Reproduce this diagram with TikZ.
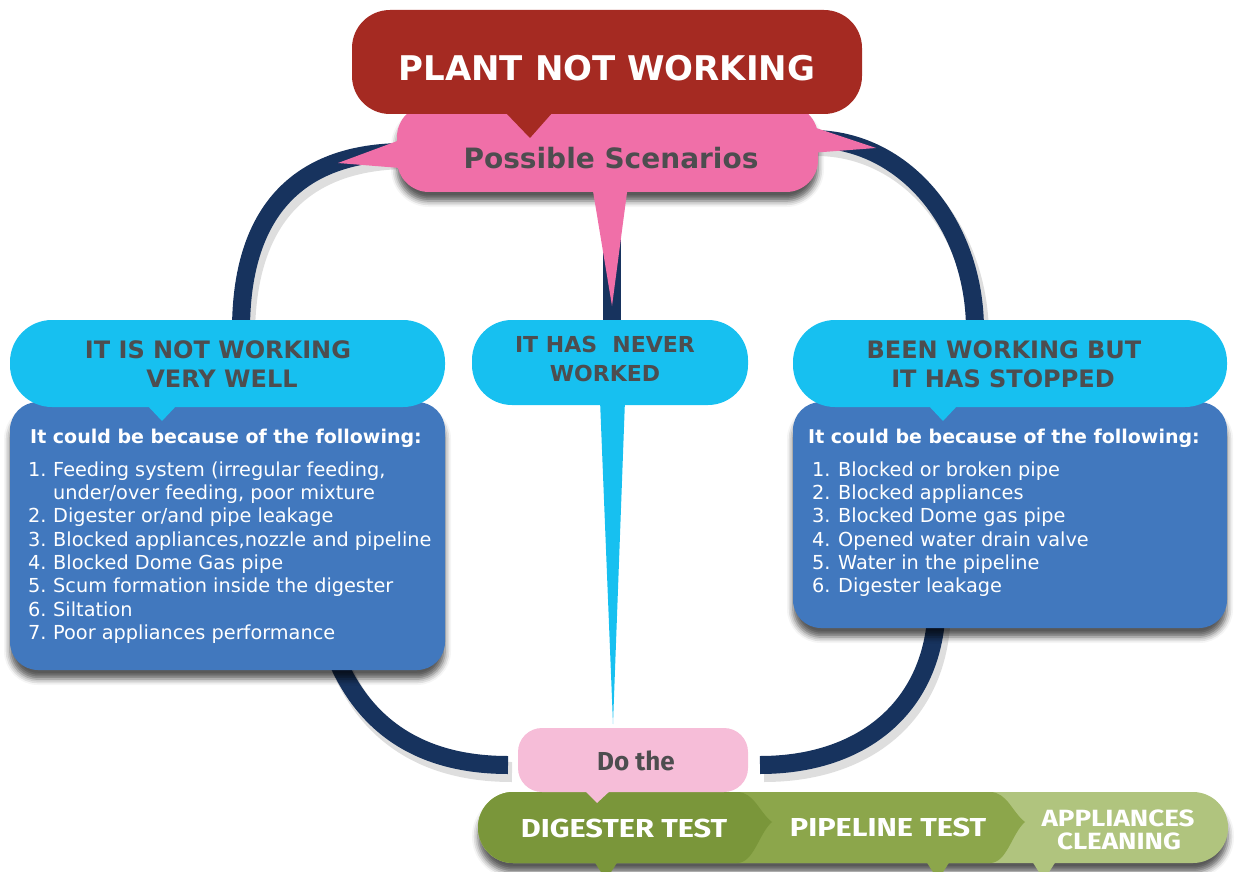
\documentclass[tikz,border=0pt]{standalone}
\usepackage{fontspec}
\setmainfont{DejaVu Sans}
\newfontfamily\condfont{Fira Sans}
\usetikzlibrary{shadows.blur}
\definecolor{cRed}{HTML}{A52A22}
\definecolor{cPink}{HTML}{F06FA8}
\definecolor{cLPink}{HTML}{F6BDD8}
\definecolor{cCyan}{HTML}{17C0F0}
\definecolor{cBlue}{HTML}{4178BE}
\definecolor{cNavy}{HTML}{17335E}
\definecolor{cGray}{HTML}{4D4D4F}
\definecolor{gDark}{HTML}{7A963A}
\definecolor{gMid}{HTML}{8CA64B}
\definecolor{gLight}{HTML}{B0C47E}
\newcommand\widen[1]{\scalebox{1.18}[1]{#1}}
\tikzset{
  box/.style={rectangle, rounded corners=#1, inner sep=0pt, draw=none},
  box/.default=30pt,
  shad/.style={blur shadow={shadow xshift=0pt, shadow yshift=-9pt, shadow blur radius=6pt, shadow opacity=65}},
  ring/.style={draw=cNavy, line width=18pt},
  ringshade/.style={draw=black, opacity=0.13, line width=20pt, transform canvas={xshift=4pt, yshift=-7pt}},
  tx/.style={inner sep=0pt, anchor=base},
  txl/.style={inner sep=0pt, anchor=base west, text=white},
  headtxt/.style={tx, text=cGray, font=\fontsize{24}{28}\selectfont\bfseries},
  itemtxt/.style={txl, font=\fontsize{19.3}{23}\selectfont},
  bartxt/.style={tx, text=white, font=\fontsize{26}{30}\condfont\bfseries},
  bartxtsm/.style={tx, text=white, font=\fontsize{23.5}{28}\condfont\bfseries},
}
\begin{document}
\begin{tikzpicture}[x=1pt,y=-1pt]
\useasboundingbox (0,0) rectangle (1235,872);
\clip (0,0) rectangle (1235,872);

% ring coordinates
\coordinate (tlA) at (405,152);
\coordinate (tlB) at (241,330);
\coordinate (trA) at (812,139);
\coordinate (trB) at (975,330);
\coordinate (blA) at (335,655);
\coordinate (blB) at (508,765);
\coordinate (brA) at (936,620);
\coordinate (brB) at (760,765);
\coordinate (midA) at (612,190);
\coordinate (midB) at (612,330);

% ring shadows
\draw[ringshade] (tlA) .. controls (295,152) and (241,215) .. (tlB);
\draw[ringshade] (trA) .. controls (905,139) and (975,225) .. (trB);
\draw[ringshade] (blA) .. controls (365,730) and (425,765) .. (blB);
\draw[ringshade] (brA) .. controls (928,710) and (860,765) .. (brB);
% ring
\draw[ring] (tlA) .. controls (295,152) and (241,215) .. (tlB);
\draw[ring] (trA) .. controls (905,139) and (975,225) .. (trB);
\draw[ring] (blA) .. controls (365,730) and (425,765) .. (blB);
\draw[ring] (brA) .. controls (928,710) and (860,765) .. (brB);
\draw[ring] (midA) -- (midB);

% pink scenarios box
\node[box=32pt, fill=cPink, minimum width=421pt, minimum height=87pt, shad] (scen) at (607.5,148.5) {};
\fill[cPink] (400,140) -- (338,163) -- (400,168) -- cycle;
\fill[cPink] (810,126) -- (876,148) -- (810,153) -- cycle;
\fill[cPink] (592,185) -- (628,185) -- (612,306) -- cycle;
\node[tx, text=cGray, font=\fontsize{28}{34}\selectfont\bfseries] (scenT) at (611,169) {Possible Scenarios};

% red title
\node[box=38pt, fill=cRed, minimum width=510pt, minimum height=104pt] (plant) at (607,62) {};
\fill[cRed] (505,112) -- (553,112) -- (530,138) -- cycle;
\node[tx, text=white, font=\fontsize{34}{40}\selectfont\bfseries] (plantT) at (607,81) {PLANT NOT WORKING};

% never worked
\node[box=40pt, fill=cCyan, minimum width=276pt, minimum height=85pt] (never) at (610,362.5) {};
\fill[cCyan] (600,400) -- (625,400) -- (613,724) -- cycle;
\node[tx, text=cGray, font=\fontsize{22}{26}\selectfont\bfseries] (neverT1) at (605,352) {IT HAS\ \ NEVER};
\node[tx, text=cGray, font=\fontsize{22}{26}\selectfont\bfseries] (neverT2) at (605,381) {WORKED};

% left group
\node[box=28pt, fill=cBlue, minimum width=435pt, minimum height=268pt, shad] (lbody) at (227.5,536) {};
\node[box=42pt, fill=cCyan, minimum width=435pt, minimum height=87pt] (lhead) at (227.5,363.5) {};
\fill[cCyan] (146,404) -- (178,404) -- (162,421) -- cycle;
\node[headtxt] (lheadT1) at (218,358) {IT IS NOT WORKING};
\node[headtxt] (lheadT2) at (222,387) {VERY WELL};
\node[txl, font=\fontsize{19}{23}\selectfont\bfseries] (lcause) at (30,443) {It could be because of the following:};
\foreach \y/\n/\t in {476/1./{Feeding system (irregular feeding,},
                      522.6/2./{Digester or/and pipe leakage},
                      546/3./{Blocked appliances,nozzle and pipeline},
                      569.3/4./{Blocked Dome Gas pipe},
                      592.6/5./{Scum formation inside the digester},
                      616/6./{Siltation},
                      639.3/7./{Poor appliances performance}}{
  \node[itemtxt] (ln\y) at (28,\y) {\n};
  \node[itemtxt] (lt\y) at (53,\y) {\t};
}
\node[itemtxt] (lcont) at (53,499.3) {under/over feeding, poor mixture};

% right group
\node[box=28pt, fill=cBlue, minimum width=434pt, minimum height=226pt, shad] (rbody) at (1010,515) {};
\node[box=42pt, fill=cCyan, minimum width=434pt, minimum height=87pt] (rhead) at (1010,363.5) {};
\fill[cCyan] (927,404) -- (959,404) -- (943,421) -- cycle;
\node[headtxt] (rheadT1) at (1004,358) {BEEN WORKING BUT};
\node[headtxt] (rheadT2) at (1003,387) {IT HAS STOPPED};
\node[txl, font=\fontsize{19}{23}\selectfont\bfseries] (rcause) at (808,443) {It could be because of the following:};
\foreach \y/\n/\t in {476/1./{Blocked or broken pipe},
                      499.3/2./{Blocked appliances},
                      522.6/3./{Blocked Dome gas pipe},
                      546/4./{Opened water drain valve},
                      569.3/5./{Water in the pipeline},
                      592.6/6./{Digester leakage}}{
  \node[itemtxt] (rn\y) at (812,\y) {\n};
  \node[itemtxt] (rt\y) at (838,\y) {\t};
}

% green bar
\node[box=35pt, fill=gLight, minimum width=750pt, minimum height=71pt, shad] (bar) at (853,827.5) {};
\fill[gLight] (1030,858) -- (1058,858) -- (1044,880) -- cycle;
\fill[gMid] (513,792) -- (990,792) .. controls (1007,792) and (1012,812) .. (1025,822)
   .. controls (1012,833) and (1007,863) .. (990,863) -- (513,863)
   .. controls (494,863) and (478,847) .. (478,827.5) .. controls (478,808) and (494,792) .. (513,792) -- cycle;
\fill[gMid] (924,858) -- (952,858) -- (938,880) -- cycle;
\fill[gDark] (513,792) -- (737,792) .. controls (754,792) and (759,812) .. (772,822)
   .. controls (759,833) and (754,863) .. (737,863) -- (513,863)
   .. controls (494,863) and (478,847) .. (478,827.5) .. controls (478,808) and (494,792) .. (513,792) -- cycle;
\fill[gDark] (592,858) -- (620,858) -- (606,880) -- cycle;
\node[bartxt] (digT) at (624,837) {\widen{DIGESTER TEST}};
\node[bartxt] (pipT) at (888,836) {\widen{PIPELINE TEST}};
\node[bartxtsm] (appT1) at (1118,826) {\widen{APPLIANCES}};
\node[bartxtsm] (appT2) at (1119,849) {\widen{CLEANING}};

% do the
\node[box=24pt, fill=cLPink, minimum width=230pt, minimum height=64pt] (dothe) at (633,760) {};
\fill[cLPink] (584,790) -- (611,790) -- (597,803) -- cycle;
\node[tx, text=cGray, font=\fontsize{26}{30}\condfont\bfseries] (dotheT) at (636,770) {Do the};
\end{tikzpicture}
\end{document}
